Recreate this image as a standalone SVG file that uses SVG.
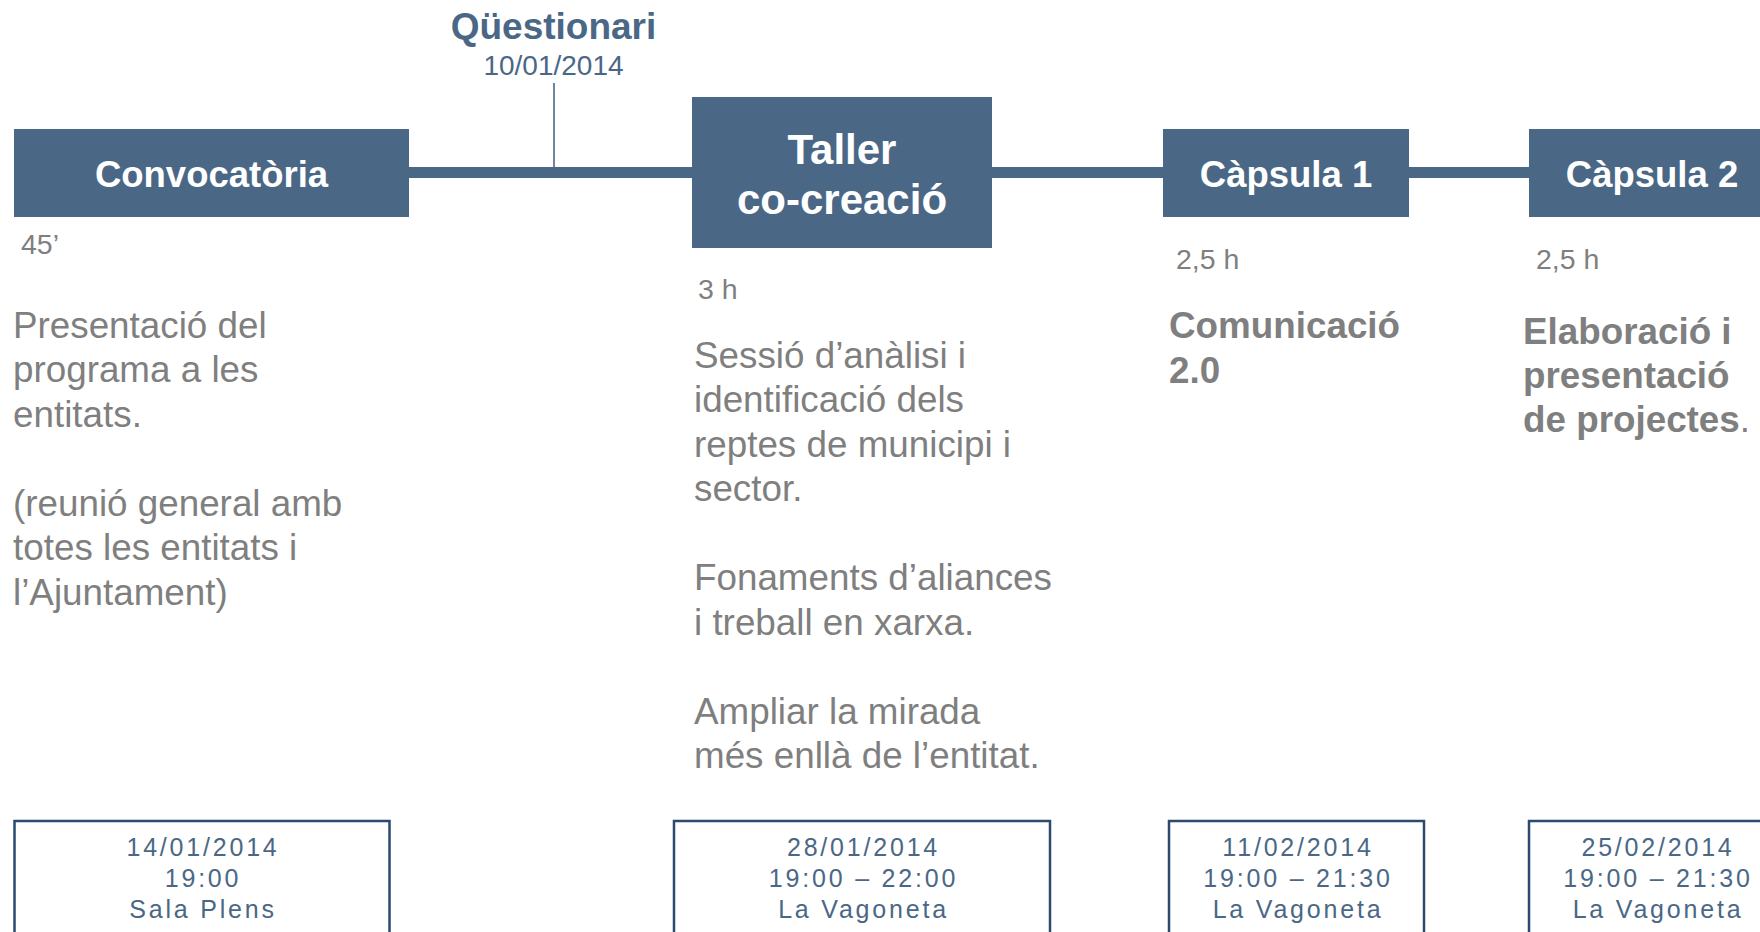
<svg xmlns="http://www.w3.org/2000/svg" width="1760" height="932" viewBox="0 0 1760 932">
<style>
.box{fill:#4A6886}
.ttl{font-family:"Liberation Sans",Arial,sans-serif;font-weight:bold;fill:#FFFFFF;text-anchor:middle}
.dur{font-family:"Liberation Sans",Arial,sans-serif;font-size:28.5px;fill:#7F7F7F}
.desc{font-family:"Liberation Sans",Arial,sans-serif;font-size:36.8px;fill:#7F7F7F}
.bold{font-weight:bold}
.date{fill:none;stroke:#2C4A6E;stroke-width:2.5}
.dt{font-family:"Liberation Sans",Arial,sans-serif;font-size:25px;letter-spacing:2.8px;fill:#4A6886;text-anchor:middle}
.q{font-family:"Liberation Sans",Arial,sans-serif;fill:#4A6886;text-anchor:middle}
</style>
<rect width="1760" height="932" fill="#FFFFFF"/>
<g id="connectors">
<rect x="405" y="167" width="1130" height="11" fill="#4A6886"/>
<line x1="554" y1="83" x2="554" y2="168" stroke="#4A6886" stroke-width="1.6"/>
</g>
<g id="questionari">
<text class="q" x="553.5" y="39" font-size="37" font-weight="bold">Qüestionari</text>
<text class="q" x="553.5" y="75" font-size="28">10/01/2014</text>
</g>
<g id="convocatoria">
<rect class="box" x="14" y="129" width="395" height="88"/>
<text class="ttl" x="211.5" y="186.5" font-size="36.5">Convocatòria</text>
<text class="dur" x="21" y="254">45’</text>
<text class="desc" x="13"><tspan x="13" y="337.5">Presentació del</tspan><tspan x="13" y="382">programa a les</tspan><tspan x="13" y="426.5">entitats.</tspan><tspan x="13" y="515.5">(reunió general amb</tspan><tspan x="13" y="560">totes les entitats i</tspan><tspan x="13" y="604.5">l’Ajuntament)</tspan></text>
<rect class="date" x="14.5" y="821" width="375" height="150"/>
<text class="dt" x="203"><tspan x="203" y="856">14/01/2014</tspan><tspan x="203" y="887">19:00</tspan><tspan x="203" y="918">Sala Plens</tspan></text>
</g>
<g id="taller">
<rect class="box" x="692" y="97" width="300" height="151"/>
<text class="ttl" x="842" y="163.5" font-size="42">Taller</text>
<text class="ttl" x="842" y="214" font-size="42">co-creació</text>
<text class="dur" x="698" y="298.5">3 h</text>
<text class="desc"><tspan x="694" y="367.5">Sessió d’anàlisi i</tspan><tspan x="694" y="412">identificació dels</tspan><tspan x="694" y="456.5">reptes de municipi i</tspan><tspan x="694" y="501">sector.</tspan><tspan x="694" y="590">Fonaments d’aliances</tspan><tspan x="694" y="634.5">i treball en xarxa.</tspan><tspan x="694" y="723.5">Ampliar la mirada</tspan><tspan x="694" y="768">més enllà de l’entitat.</tspan></text>
<rect class="date" x="674" y="821" width="376" height="150"/>
<text class="dt" x="863.5"><tspan x="863.5" y="856">28/01/2014</tspan><tspan x="863.5" y="887">19:00 – 22:00</tspan><tspan x="863.5" y="918">La Vagoneta</tspan></text>
</g>
<g id="capsula1">
<rect class="box" x="1163" y="129" width="246" height="88"/>
<text class="ttl" x="1286" y="186.5" font-size="36.5">Càpsula 1</text>
<text class="dur" x="1176" y="269">2,5 h</text>
<text class="desc bold"><tspan x="1169" y="338">Comunicació</tspan><tspan x="1169" y="382.5">2.0</tspan></text>
<rect class="date" x="1169" y="821" width="255" height="150"/>
<text class="dt" x="1298"><tspan x="1298" y="856">11/02/2014</tspan><tspan x="1298" y="887">19:00 – 21:30</tspan><tspan x="1298" y="918">La Vagoneta</tspan></text>
</g>
<g id="capsula2">
<rect class="box" x="1529" y="129" width="246" height="88"/>
<text class="ttl" x="1652" y="186.5" font-size="36.5">Càpsula 2</text>
<text class="dur" x="1536" y="269">2,5 h</text>
<text class="desc bold"><tspan x="1523" y="343.5">Elaboració i</tspan><tspan x="1523" y="387.5">presentació</tspan><tspan x="1523" y="431.5">de projectes<tspan font-weight="normal">.</tspan></tspan></text>
<rect class="date" x="1529" y="821" width="255" height="150"/>
<text class="dt" x="1658"><tspan x="1658" y="856">25/02/2014</tspan><tspan x="1658" y="887">19:00 – 21:30</tspan><tspan x="1658" y="918">La Vagoneta</tspan></text>
</g>
</svg>
